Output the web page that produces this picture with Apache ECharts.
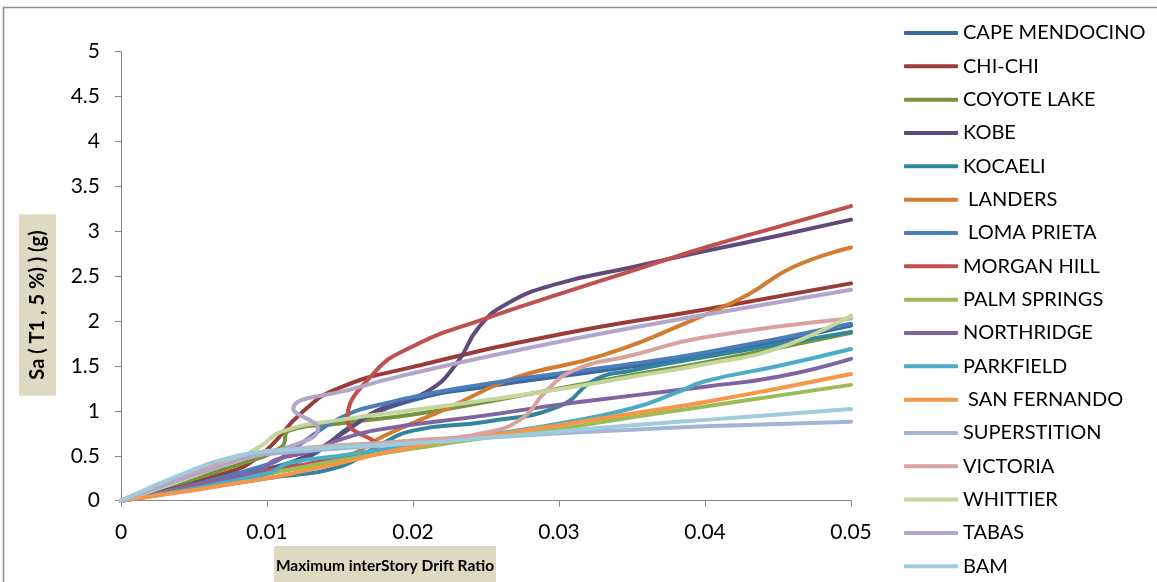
<!DOCTYPE html>
<html>
<head>
<meta charset="utf-8">
<script src="https://cdn.jsdelivr.net/npm/echarts@6/dist/echarts.min.js"></script>
<style>
html,body{margin:0;padding:0;background:#fff;}
#chart{width:1157px;height:582px;}
</style>
</head>
<body>
<div id="chart"></div>
<script>
// ---- data: [drift ratio, Sa(g)] ----
const seriesNames = ['CAPE MENDOCINO','CHI-CHI','COYOTE LAKE','KOBE','KOCAELI',' LANDERS',' LOMA PRIETA','MORGAN HILL','PALM SPRINGS','NORTHRIDGE','PARKFIELD',' SAN FERNANDO','SUPERSTITION','VICTORIA','WHITTIER','TABAS','BAM'];
const seriesColors = ['#3A679C','#9B3B38','#77933C','#604A7B','#31859C','#D27C32','#4A7EBB','#C0504D','#9BBB59','#8064A2','#4BACC6','#F79646','#A3B5D6','#D8A2A0','#C3D69B','#B3A6CA','#9ECCDC'];

const capeMendocino = [[0,0],[0.01,0.35],[0.013,0.5],[0.016,0.85],[0.02,1.12],[0.025,1.27],[0.033,1.45],[0.04,1.62],[0.05,1.95]];
const chiChi = [[0,0],[0.007,0.3],[0.0095,0.5],[0.0125,1.0],[0.015,1.26],[0.02,1.49],[0.03,1.85],[0.04,2.13],[0.05,2.42]];
const coyoteLake = [[0,0],[0.008,0.4],[0.011,0.6],[0.0115,0.78],[0.015,0.86],[0.02,0.96],[0.025,1.1],[0.03,1.25],[0.035,1.4],[0.04,1.54],[0.05,1.87]];
const kobe = [[0,0],[0.008,0.3],[0.012,0.45],[0.0152,0.75],[0.0175,1.0],[0.021,1.22],[0.023,1.53],[0.0245,1.93],[0.0265,2.2],[0.03,2.42],[0.035,2.6],[0.04,2.78],[0.045,2.95],[0.05,3.13]];
const kocaeli = [[0,0],[0.01,0.25],[0.015,0.38],[0.0175,0.6],[0.02,0.78],[0.025,0.88],[0.03,1.05],[0.0325,1.35],[0.035,1.45],[0.04,1.6],[0.05,1.88]];
const landers = [[0,0],[0.01,0.3],[0.0155,0.5],[0.018,0.72],[0.0225,1.04],[0.027,1.37],[0.033,1.62],[0.04,2.07],[0.043,2.3],[0.046,2.6],[0.05,2.82]];
const lomaPrieta = [[0,0],[0.01,0.4],[0.012,0.6],[0.015,0.92],[0.018,1.08],[0.025,1.3],[0.033,1.48],[0.04,1.65],[0.05,1.97]];
const morganHill = [[0,0],[0.006,0.2],[0.01,0.33],[0.014,0.45],[0.0175,0.62],[0.0155,0.9],[0.0172,1.4],[0.02,1.72],[0.025,2.03],[0.03,2.3],[0.035,2.56],[0.04,2.82],[0.045,3.05],[0.05,3.28]];
const palmSprings = [[0,0],[0.01,0.3],[0.015,0.45],[0.02,0.58],[0.025,0.7],[0.03,0.8],[0.035,0.93],[0.04,1.05],[0.045,1.17],[0.05,1.29]];
const northridge = [[0,0],[0.0095,0.33],[0.0105,0.45],[0.013,0.55],[0.015,0.68],[0.018,0.8],[0.025,0.95],[0.03,1.07],[0.035,1.17],[0.04,1.27],[0.045,1.38],[0.05,1.58]];
const parkfield = [[0,0],[0.01,0.3],[0.0115,0.42],[0.015,0.5],[0.02,0.62],[0.025,0.73],[0.03,0.86],[0.035,1.03],[0.038,1.2],[0.04,1.33],[0.045,1.5],[0.05,1.69]];
const sanFernando = [[0,0],[0.01,0.25],[0.015,0.42],[0.02,0.6],[0.025,0.72],[0.03,0.84],[0.035,0.97],[0.04,1.1],[0.045,1.25],[0.05,1.41]];
const superstition = [[0,0],[0.005,0.33],[0.008,0.48],[0.01,0.52],[0.015,0.58],[0.02,0.64],[0.025,0.7],[0.03,0.75],[0.035,0.79],[0.04,0.83],[0.05,0.88]];
const victoria = [[0,0],[0.008,0.48],[0.012,0.58],[0.02,0.67],[0.025,0.76],[0.0275,0.92],[0.029,1.2],[0.031,1.45],[0.035,1.62],[0.04,1.82],[0.05,2.03]];
const whittier = [[0,0],[0.007,0.4],[0.0095,0.6],[0.011,0.77],[0.015,0.9],[0.02,1.01],[0.025,1.12],[0.03,1.24],[0.035,1.38],[0.04,1.52],[0.045,1.7],[0.05,2.06]];
const tabas = [[0,0],[0.008,0.45],[0.0115,0.6],[0.0135,0.8],[0.0118,1.02],[0.016,1.25],[0.02,1.42],[0.03,1.77],[0.04,2.07],[0.05,2.35]];
const bam = [[0,0],[0.005,0.35],[0.008,0.5],[0.01,0.55],[0.015,0.6],[0.02,0.64],[0.025,0.7],[0.03,0.77],[0.035,0.84],[0.04,0.9],[0.045,0.96],[0.05,1.02]];

const seriesData = [capeMendocino,chiChi,coyoteLake,kobe,kocaeli,landers,lomaPrieta,morganHill,palmSprings,northridge,parkfield,sanFernando,superstition,victoria,whittier,tabas,bam];

const xTitle = 'Maximum interStory Drift Ratio';
const yTitle = 'Sa ( T1 , 5 %) ) (g)';

const chart = echarts.init(document.getElementById('chart'));
const FONT = 'Lato';
const AXIS = '#868686';

const option = {
  animation: false,
  backgroundColor: '#ffffff',
  grid: {left: 121, right: 306, top: 51.7, bottom: 81.3},
  xAxis: {
    type: 'value', min: 0, max: 0.05, interval: 0.01,
    axisLine: {show: true, lineStyle: {color: AXIS, width: 1}},
    axisTick: {show: true, inside: false, length: 6, lineStyle: {color: AXIS}},
    splitLine: {show: false},
    axisLabel: {color: '#000', fontFamily: FONT, fontSize: 21, margin: 21}
  },
  yAxis: {
    type: 'value', min: 0, max: 5, interval: 0.5,
    axisLine: {show: true, lineStyle: {color: AXIS, width: 1}},
    axisTick: {show: true, inside: false, length: 6, lineStyle: {color: AXIS}},
    splitLine: {show: false},
    axisLabel: {color: '#000', fontFamily: FONT, fontSize: 21, margin: 21}
  },
  legend: {
    orient: 'vertical', left: 904, top: 23, height: 575, padding: 0,
    itemWidth: 54, itemHeight: 4, itemGap: 13.33,
    icon: 'roundRect',
    data: seriesNames,
    textStyle: {color: '#000', fontFamily: FONT, fontSize: 20, lineHeight: 20}
  },
  series: seriesNames.map((name, i) => ({
    name: name,
    type: 'line',
    data: seriesData[i],
    smooth: true,
    symbol: 'none',
    color: seriesColors[i],
    lineStyle: {width: 4, color: seriesColors[i], cap: 'round', join: 'round'}
  })),
  graphic: [
    {type: 'rect', shape: {x: 3.5, y: 7.5, width: 1200, height: 600}, style: {fill: 'none', stroke: '#8c8c8c', lineWidth: 1.5}, silent: true},
    {type: 'rect', shape: {x: 274, y: 546, width: 222, height: 42}, style: {fill: '#DDD9C3'}, silent: true},
    {type: 'text', x: 385, y: 566,
     style: {text: xTitle, font: 'bold 15.5px ' + FONT, fill: '#000', align: 'center', verticalAlign: 'middle'}},
    {type: 'text', x: 37.5, y: 305, rotation: Math.PI / 2,
     style: {text: yTitle, font: 'bold 20px ' + FONT, fill: '#000', align: 'center', verticalAlign: 'middle',
             backgroundColor: '#DDD9C3', padding: [8, 16, 8, 16], lineHeight: 21}}
  ]
};
chart.setOption(option);
</script>
</body>
</html>
